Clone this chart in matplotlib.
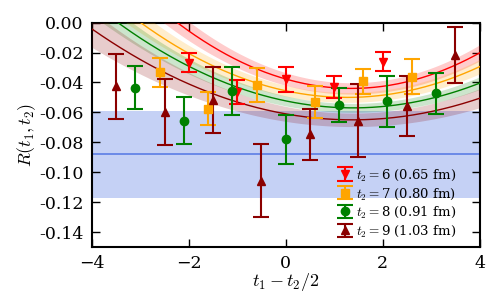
import numpy as np
import matplotlib.pyplot as plt

plt.rcParams['font.family'] = 'DejaVu Serif'
plt.rcParams['mathtext.fontset'] = 'cm'

# data points: x = t1 - t2/2, value, error
x6 = [-2.0, -1.0, 0.0, 1.0, 2.0]
y6 = [-0.0267, -0.0463, -0.0378, -0.0433, -0.0261]
e6 = [0.0062, 0.0080, 0.0083, 0.0073, 0.0062]

x7 = [-2.6, -1.6, -0.6, 0.6, 1.6, 2.6]
y7 = [-0.0332, -0.0577, -0.0417, -0.0532, -0.0393, -0.0361]
e7 = [0.0097, 0.0110, 0.0115, 0.0105, 0.0083, 0.0115]

x8 = [-3.1, -2.1, -1.1, 0.0, 1.1, 2.1, 3.1]
y8 = [-0.0435, -0.0655, -0.0458, -0.0779, -0.0550, -0.0525, -0.0472]
e8 = [0.0145, 0.0155, 0.0160, 0.0164, 0.0113, 0.0170, 0.0137]

x9 = [-3.5, -2.5, -1.5, -0.5, 0.5, 1.5, 2.5, 3.5]
y9 = [-0.0425, -0.0600, -0.0520, -0.1056, -0.0747, -0.0656, -0.0557, -0.0218]
e9 = [0.0217, 0.0220, 0.0220, 0.0245, 0.0170, 0.0244, 0.0200, 0.0187]

# fit curves: minimum position, minimum value, curvature, band half width
fit6 = [1.36, -0.0440, 0.0034, 0.0038]
fit7 = [1.27, -0.0500, 0.00275, 0.0033]
fit8 = [1.39, -0.0570, 0.00242, 0.0030]
fit9 = [1.38, -0.0650, 0.0021, 0.0045]

# plateau value and error
plateau = -0.088
plateau_err = 0.029

labels = [r'$t_2=$6 (0.65 fm)', r'$t_2=$7 (0.80 fm)',
          r'$t_2=$8 (0.91 fm)', r'$t_2=$9 (1.03 fm)']

fig = plt.figure(figsize=(4.99, 3.05), dpi=100)
ax = fig.add_axes([0.184, 0.19, 0.777, 0.736])

ax.axhspan(plateau - plateau_err, plateau + plateau_err, color='royalblue',
           alpha=0.3, lw=0, zorder=1)
ax.axhline(plateau, color='royalblue', lw=1.2, alpha=0.8, zorder=2)

xx = np.linspace(-4, 4, 200)
series = [
    (x6, y6, e6, fit6, 'red', 'v'),
    (x7, y7, e7, fit7, 'orange', 's'),
    (x8, y8, e8, fit8, 'green', 'o'),
    (x9, y9, e9, fit9, 'darkred', '^'),
]

for (xs, ys, es, fit, col, mk), lab in zip(series, labels):
    x0, c, a, w = fit
    curve = c + a * (xx - x0) ** 2
    width = w * (1 + 0.06 * (xx - x0) ** 2)
    ax.fill_between(xx, curve - width, curve + width, color=col,
                    alpha=0.2, lw=0, zorder=3)
    ax.plot(xx, curve, color=col, lw=1, zorder=4)

for (xs, ys, es, fit, col, mk), lab in zip(series, labels):
    ax.errorbar(xs, ys, yerr=es, fmt=mk, color=col, ms=6, elinewidth=1.5,
                capsize=6, capthick=1.5, label=lab, zorder=5)

ax.set_xlim(-4, 4)
ax.set_ylim(-0.15, 0.0)
yt = np.arange(-0.14, 0.001, 0.02)
ax.set_yticks(yt)
ax.set_yticklabels(['%.2f' % v if abs(v) > 1e-9 else '0.00' for v in yt])
ax.tick_params(direction='in', top=True, right=True, length=6,
               width=1, labelsize=12.5, pad=6)
for sp in ax.spines.values():
    sp.set_linewidth(1.5)

ax.set_xlabel(r'$t_1 - t_2/2$', fontsize=13, labelpad=-1)
ax.set_ylabel(r'$R(t_1,t_2)$', fontsize=13, labelpad=1)

ax.legend(loc='lower right', bbox_to_anchor=(0.96, 0.0), frameon=False,
          fontsize=9.5, numpoints=1, handletextpad=0.1, labelspacing=0.25,
          borderaxespad=0.2, handlelength=1.5)

fig.savefig('out.png', dpi=100)
